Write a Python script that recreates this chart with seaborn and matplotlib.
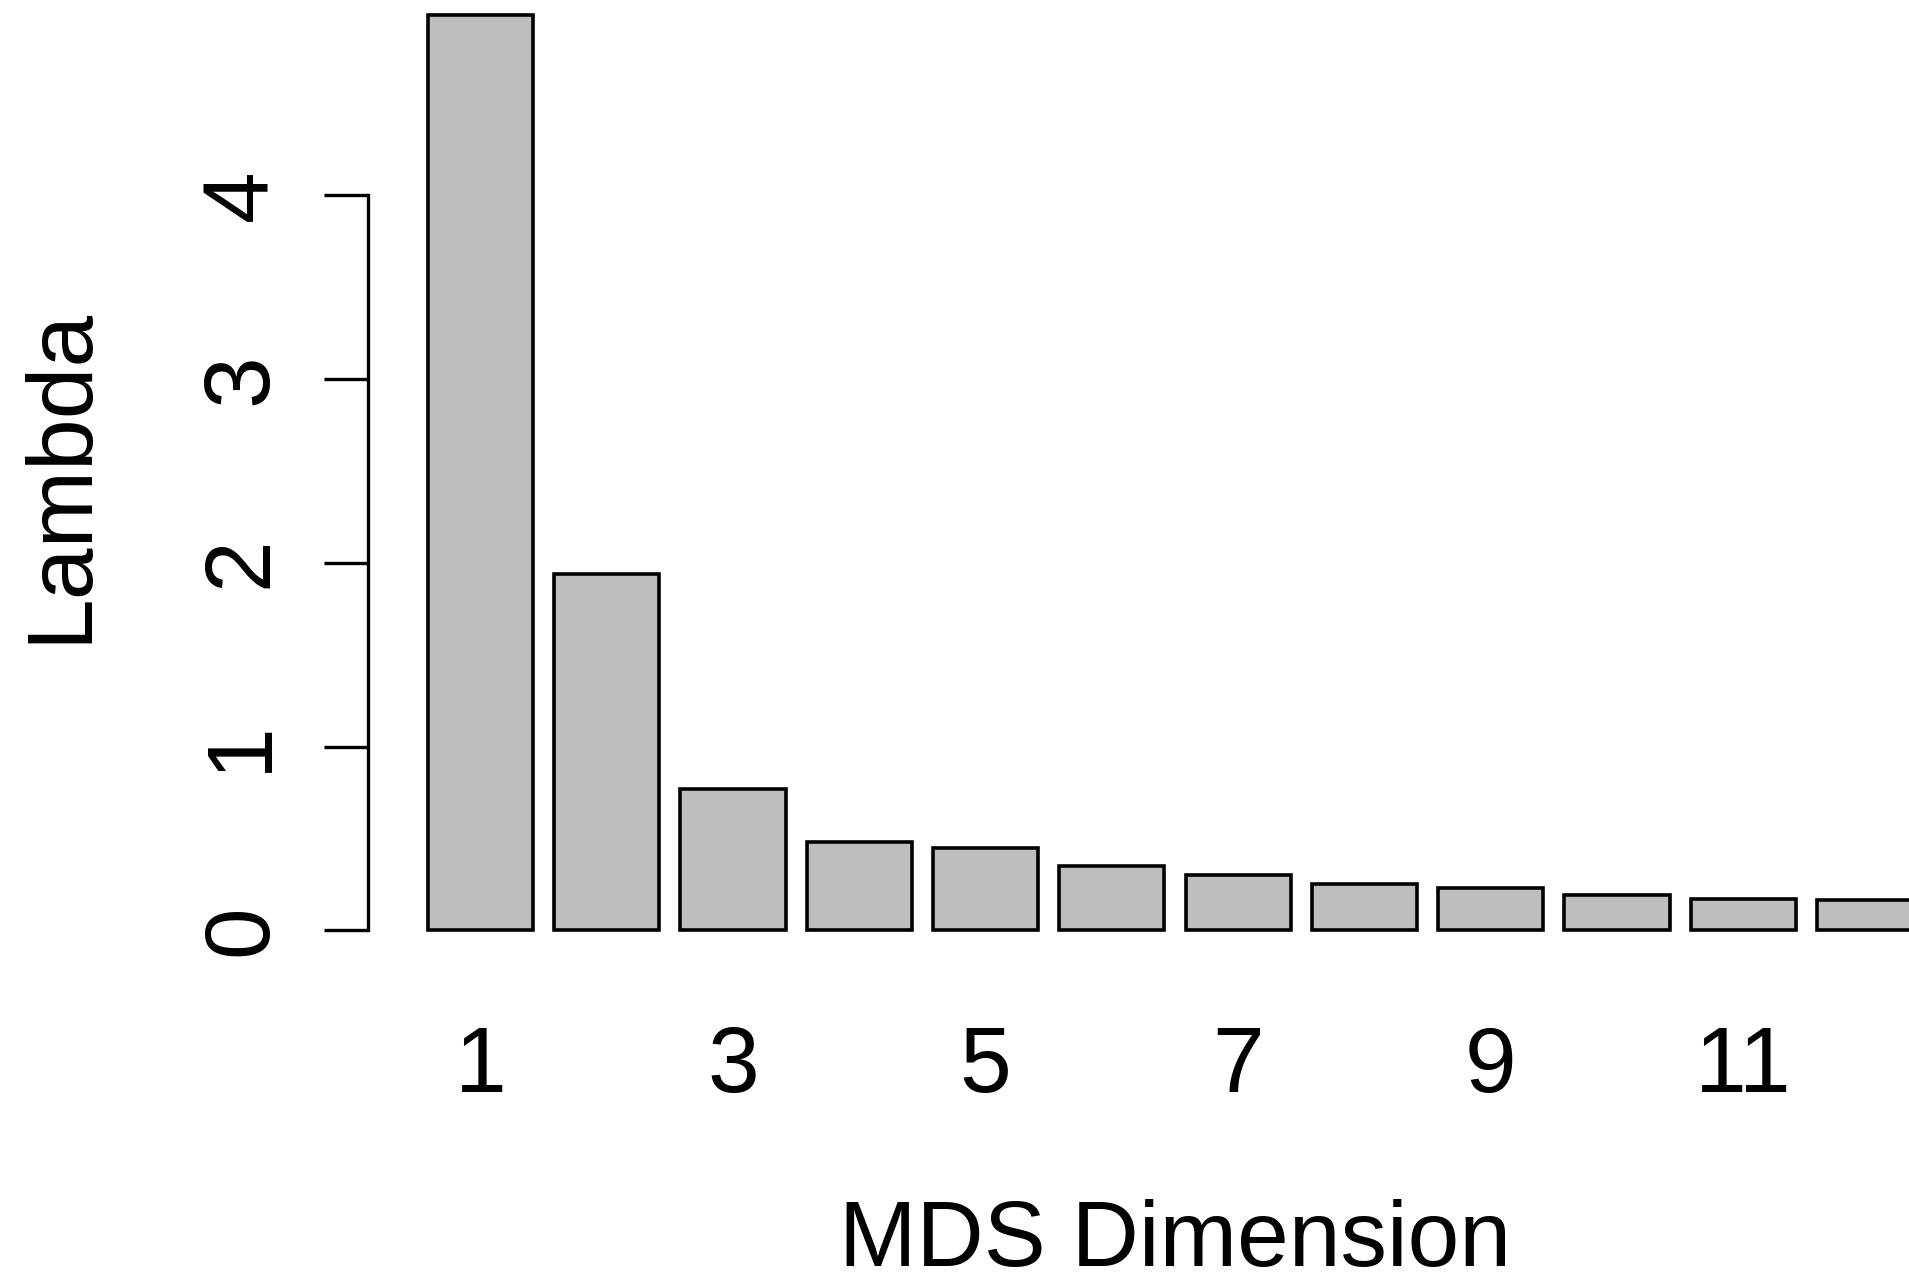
import matplotlib
matplotlib.use("Agg")
import matplotlib.pyplot as plt
import seaborn as sns
import pandas as pd

# eigenvalues per MDS dimension
dims = [str(i) for i in range(1, 13)]
lambdas = [4.98, 1.94, 0.77, 0.48, 0.45, 0.35, 0.30, 0.25, 0.23, 0.19, 0.17, 0.165]
shown_labels = ['1', '', '3', '', '5', '', '7', '', '9', '', '11', '']
y_ticks = [0, 1, 2, 3, 4]

df = pd.DataFrame({'dim': dims, 'lam': lambdas})

sns.set_theme(style='white')
plt.rcParams['font.family'] = ['Liberation Sans', 'DejaVu Sans']
plt.rcParams['text.color'] = 'black'
plt.rcParams['xtick.color'] = 'black'
plt.rcParams['ytick.color'] = 'black'
FS = 67

fig = plt.figure(figsize=(19.09, 12.76), dpi=100)
W, H = 1909, 1276
# plot region mimics R: runs past the right and top edge of the crop
ax = fig.add_axes([368 / W, (H - 967) / H, (1982 - 368) / W, (967 + 22) / H])

sns.barplot(data=df, x='dim', y='lam', order=dims, color='#BEBEBE', saturation=1,
            width=1 / 1.2, edgecolor='black', linewidth=2.6, ax=ax)

# R usr ranges converted to seaborn category units
ax.set_xlim((-0.368 - 0.7) / 1.2, (14.968 - 0.7) / 1.2)
ax.set_ylim(-0.199, 5.18)

for s in ['top', 'right', 'bottom']:
    ax.spines[s].set_visible(False)
ax.spines['left'].set_bounds(0, 4)
ax.spines['left'].set_linewidth(2.4)
ax.spines['left'].set_color('black')

ax.set_yticks(y_ticks)
ax.set_yticklabels([str(v) for v in y_ticks], fontsize=FS, color='black')
ax.tick_params(axis='y', direction='out', length=31.5, width=2.4, color='black', pad=42, left=True)
for t in ax.get_yticklabels():
    t.set_rotation(90)
    t.set_rotation_mode('anchor')
    t.set_ha('center')
    t.set_va('baseline')

ax.set_xticks(range(len(dims)))
ax.set_xticklabels(shown_labels, fontsize=FS, color='black')
ax.tick_params(axis='x', length=0, pad=42)

ax.set_xlabel('')
ax.set_ylabel('')
fig.text(1175 / W, (H - 1266) / H, 'MDS Dimension', fontsize=FS, ha='center', va='baseline',
         color='black')
fig.text(85 / W, (H - 475) / H, 'Lambda', fontsize=FS, rotation=90, rotation_mode='anchor',
         ha='center', va='baseline', color='black')

fig.savefig('out.png', dpi=100, facecolor='white')
